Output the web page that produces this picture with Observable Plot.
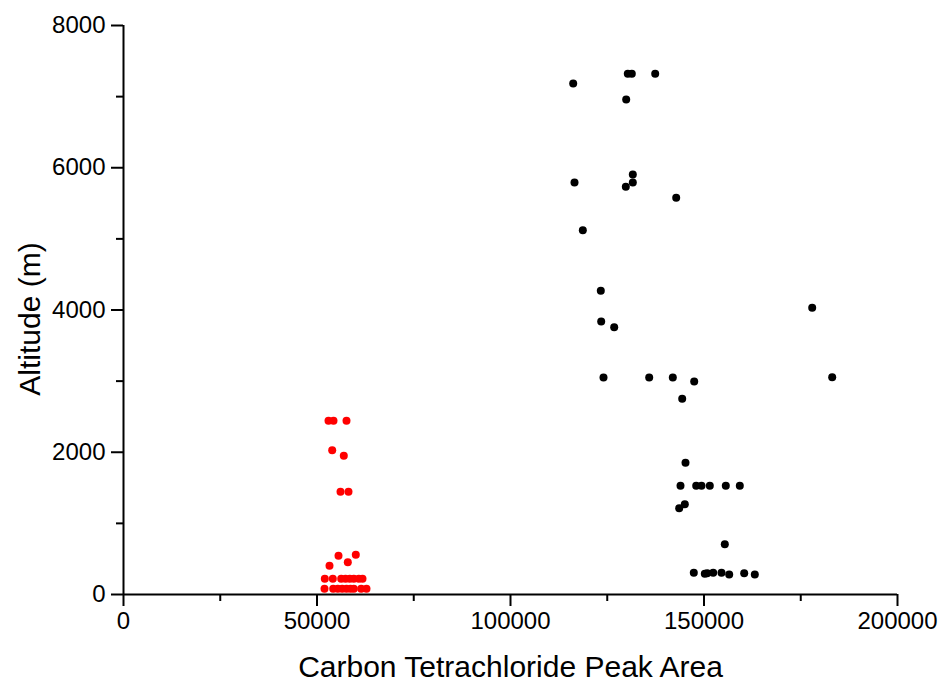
<!DOCTYPE html>
<html>
<head>
<meta charset="utf-8">
<script src="https://cdn.jsdelivr.net/npm/d3@7"></script>
<script src="https://cdn.jsdelivr.net/npm/@observablehq/plot@0.6"></script>
<style>
  html, body { margin: 0; padding: 0; background: #fff; }
  #chart { width: 941px; height: 681px; }
</style>
</head>
<body>
<div id="chart"></div>
<script>
// Red group (lower altitudes)
const redArea = [52972, 54264, 57623, 53928, 56925, 56072, 58140, 55555, 60026, 53230, 57959,
  52016, 54083, 56253, 57364, 58475, 59509, 60801, 61757,
  51938, 54186, 55375, 56512, 57623, 58656, 59509, 61421, 62791];
const redAlt = [2442, 2442, 2442, 2029, 1950, 1444, 1444, 544, 558, 403, 454,
  221, 221, 221, 221, 221, 221, 221, 221,
  80, 80, 80, 80, 80, 80, 80, 80, 80];

// Black group
const blackArea = [116202, 130310, 131344, 137390, 129897,
  116537, 131602, 131602, 129798, 142817,
  118686, 123333, 123437, 126796,
  124031, 135840, 141938, 147468, 144367,
  177959, 183127,
  145220,
  143928, 147985, 149354, 151499, 155633, 159251,
  143592, 145039,
  155375,
  147364, 150207, 150827, 152377, 154522, 156512, 160388, 163127];
const blackAlt = [7185, 7321, 7321, 7321, 6960,
  5793, 5905, 5793, 5732, 5577,
  5122, 4270, 3838, 3758,
  3051, 3051, 3051, 2995, 2751,
  4031, 3055,
  1852,
  1528, 1528, 1528, 1528, 1528, 1528,
  1213, 1270,
  707,
  305, 291, 298, 305, 305, 281, 298, 281];

const xMajor = [0, 50000, 100000, 150000, 200000];
const xMinor = [25000, 75000, 125000, 175000];
const yMajor = [0, 2000, 4000, 6000, 8000];
const yMinor = [1000, 3000, 5000, 7000];
const xTitle = "Carbon Tetrachloride Peak Area";
const yTitle = "Altitude (m)";

const red = redArea.map((a, i) => ({area: a, alt: redAlt[i]}));
const black = blackArea.map((a, i) => ({area: a, alt: blackAlt[i]}));

const font = "'Liberation Sans', Arial, sans-serif";

const chart = Plot.plot({
  width: 941,
  height: 681,
  marginLeft: 123,
  marginRight: 44,
  marginTop: 25,
  marginBottom: 87,
  style: {fontFamily: font, background: "#fff", color: "#000"},
  x: {domain: [0, 200000]},
  y: {domain: [0, 8000]},
  marks: [
    Plot.axisX({ticks: xMajor, tickSize: 12, tickPadding: 5, tickFormat: d => String(d),
      fontSize: 24, strokeWidth: 2, label: null}),
    Plot.axisX({ticks: xMinor, tickSize: 7, text: null, strokeWidth: 2, label: null}),
    Plot.axisY({ticks: yMajor, tickSize: 12, tickPadding: 6, tickFormat: d => String(d),
      fontSize: 24, strokeWidth: 2, label: null}),
    Plot.axisY({ticks: yMinor, tickSize: 7, text: null, strokeWidth: 2, label: null}),
    Plot.ruleY([0], {stroke: "#000", strokeWidth: 2}),
    Plot.ruleX([0], {stroke: "#000", strokeWidth: 2}),
    Plot.dot(red, {x: "area", y: "alt", r: 4, fill: "#ff0000", stroke: "none"}),
    Plot.dot(black, {x: "area", y: "alt", r: 4, fill: "#000", stroke: "none"}),
    Plot.text([xTitle], {frameAnchor: "bottom", dy: 82, fontSize: 30, fill: "#000"}),
    Plot.text([yTitle], {frameAnchor: "left", textAnchor: "middle", dx: -93, dy: 9, rotate: -90, fontSize: 30, fill: "#000"})
  ]
});
document.getElementById("chart").appendChild(chart);
</script>
</body>
</html>
